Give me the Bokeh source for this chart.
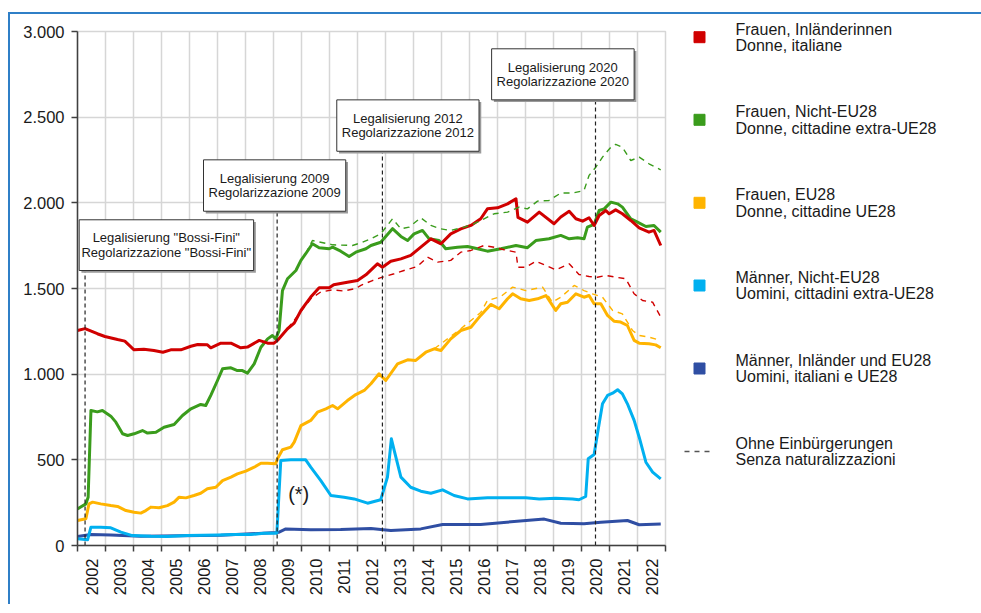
import math
from bokeh.plotting import figure
from bokeh.layouts import row
from bokeh.models import Range1d, FixedTicker
from bokeh.core.properties import value
from bokeh.embed import file_html
from bokeh.resources import INLINE

# ---------------- data ----------------
years = list(range(2002, 2023))
year_labels = [str(y) for y in years]
y_ticks = [0, 500, 1000, 1500, 2000, 2500, 3000]
y_tick_labels = ["0", "500", "1.000", "1.500", "2.000", "2.500", "3.000"]

red_t = [2002.00, 2002.27, 2002.71, 2002.98, 2003.43, 2003.69, 2004.02, 2004.37, 2004.73, 2005.05,
         2005.33, 2005.69, 2006.05, 2006.29, 2006.64, 2006.76, 2007.12, 2007.48, 2007.83, 2008.07,
         2008.49, 2008.79, 2009.02, 2009.14, 2009.50, 2009.74, 2009.98, 2010.33, 2010.63, 2010.99,
         2011.15, 2011.64, 2012.00, 2012.30, 2012.71, 2012.89, 2013.19, 2013.55, 2013.90, 2014.26,
         2014.62, 2014.98, 2015.33, 2015.69, 2016.05, 2016.40, 2016.64, 2017.00, 2017.36, 2017.66,
         2017.73, 2018.07, 2018.49, 2019.02, 2019.26, 2019.56, 2019.80, 2020.04, 2020.27, 2020.45,
         2020.63, 2020.87, 2020.99, 2021.22, 2021.46, 2021.76, 2022.06, 2022.41, 2022.59, 2022.83]
red_v = [1255, 1266, 1236, 1220, 1202, 1193, 1142, 1146, 1138, 1128,
         1142, 1142, 1163, 1173, 1171, 1154, 1181, 1181, 1154, 1158,
         1197, 1181, 1181, 1197, 1265, 1298, 1372, 1450, 1504, 1504,
         1522, 1537, 1547, 1580, 1644, 1624, 1659, 1673, 1693, 1741,
         1790, 1761, 1819, 1848, 1868, 1907, 1965, 1971, 1994, 2024,
         1915, 1887, 1946, 1878, 1917, 1951, 1907, 1893, 1913, 1868,
         1926, 1955, 1936, 1959, 1936, 1897, 1854, 1829, 1839, 1751]

red_nat_t = [2009.50, 2009.98, 2010.33, 2010.69, 2011.11, 2011.51, 2011.94, 2012.12, 2012.51, 2012.89,
             2013.31, 2013.66, 2014.14, 2014.50, 2014.86, 2015.33, 2015.69, 2016.05, 2016.52, 2016.88,
             2017.24, 2017.66, 2017.73, 2018.01, 2018.37, 2018.73, 2019.08, 2019.56, 2019.91, 2020.27,
             2020.57, 2020.87, 2021.22, 2021.58, 2021.88, 2022.18, 2022.54, 2022.83]
red_nat_v = [1265, 1365, 1440, 1480, 1492, 1485, 1500, 1518, 1545, 1566,
             1586, 1605, 1629, 1683, 1654, 1664, 1712, 1722, 1751, 1741,
             1726, 1712, 1624, 1624, 1659, 1634, 1609, 1644, 1582, 1570,
             1566, 1576, 1566, 1557, 1469, 1430, 1420, 1333]

green_t = [2002.00, 2002.30, 2002.38, 2002.48, 2002.71, 2002.89, 2003.19, 2003.37, 2003.61, 2003.79,
           2004.02, 2004.32, 2004.50, 2004.80, 2005.09, 2005.45, 2005.75, 2006.05, 2006.40, 2006.58,
           2006.76, 2007.00, 2007.18, 2007.48, 2007.71, 2007.89, 2008.07, 2008.31, 2008.55, 2008.79,
           2008.96, 2009.08, 2009.20, 2009.32, 2009.50, 2009.80, 2009.98, 2010.15, 2010.39, 2010.63,
           2010.99, 2011.11, 2011.40, 2011.70, 2011.94, 2012.30, 2012.48, 2012.83, 2013.25, 2013.55,
           2013.79, 2014.02, 2014.32, 2014.56, 2014.91, 2015.15, 2015.57, 2015.93, 2016.29, 2016.64,
           2017.12, 2017.66, 2018.07, 2018.37, 2018.84, 2019.26, 2019.56, 2019.86, 2020.09, 2020.21,
           2020.45, 2020.63, 2020.81, 2021.05, 2021.29, 2021.46, 2021.76, 2022.00, 2022.30, 2022.59,
           2022.83]
green_v = [214, 243, 282, 788, 780, 788, 755, 720, 652, 642,
           652, 671, 656, 661, 690, 706, 759, 798, 823, 817,
           876, 963, 1031, 1037, 1021, 1021, 1006, 1060, 1157, 1206,
           1226, 1206, 1255, 1488, 1557, 1605, 1664, 1703, 1761, 1738,
           1732, 1741, 1718, 1687, 1712, 1732, 1751, 1770, 1849, 1804,
           1780, 1819, 1839, 1790, 1780, 1732, 1741, 1745, 1732, 1718,
           1732, 1751, 1738, 1780, 1790, 1810, 1790, 1796, 1790, 1858,
           1874, 1955, 1965, 2004, 1994, 1975, 1907, 1887, 1862, 1868,
           1829]

green_nat_t = [2010.15, 2010.39, 2011.11, 2011.82, 2012.18, 2012.48, 2012.83, 2013.25, 2013.55, 2013.84,
               2014.26, 2014.62, 2014.98, 2015.33, 2015.81, 2016.16, 2016.52, 2016.88, 2017.36, 2017.77,
               2018.07, 2018.43, 2018.84, 2019.26, 2019.68, 2020.09, 2020.27, 2020.51, 2020.75, 2021.05,
               2021.22, 2021.46, 2021.76, 2022.06, 2022.41, 2022.83]
green_nat_v = [1703, 1780, 1755, 1751, 1770, 1790, 1819, 1907, 1848, 1858,
               1913, 1868, 1848, 1839, 1858, 1878, 1907, 1936, 1946, 1975,
               1965, 2010, 2014, 2057, 2057, 2072, 2160, 2208, 2267, 2325,
               2341, 2325, 2247, 2267, 2228, 2193]

yellow_t = [2002.00, 2002.30, 2002.41, 2002.54, 2002.83, 2003.19, 2003.43, 2003.73, 2004.02, 2004.26,
            2004.44, 2004.62, 2004.91, 2005.21, 2005.45, 2005.63, 2005.87, 2006.16, 2006.40, 2006.64,
            2006.94, 2007.18, 2007.48, 2007.71, 2008.01, 2008.31, 2008.55, 2008.79, 2009.08, 2009.14,
            2009.32, 2009.62, 2009.74, 2009.98, 2010.33, 2010.57, 2010.87, 2011.11, 2011.29, 2011.64,
            2011.94, 2012.24, 2012.48, 2012.77, 2013.01, 2013.43, 2013.79, 2014.08, 2014.44, 2014.74,
            2014.98, 2015.33, 2015.69, 2016.05, 2016.40, 2016.76, 2017.06, 2017.36, 2017.54, 2017.83,
            2018.13, 2018.43, 2018.73, 2019.08, 2019.26, 2019.50, 2019.80, 2020.09, 2020.27, 2020.45,
            2020.69, 2020.93, 2021.16, 2021.40, 2021.64, 2021.88, 2022.06, 2022.41, 2022.65, 2022.83]
yellow_v = [146, 156, 243, 253, 243, 233, 228, 204, 194, 189,
            204, 224, 220, 233, 253, 282, 278, 292, 305, 331,
            340, 379, 399, 418, 434, 457, 480, 480, 477, 506,
            559, 574, 603, 700, 730, 778, 798, 817, 798, 846,
            881, 905, 944, 1002, 963, 1060, 1084, 1080, 1128, 1148,
            1138, 1206, 1255, 1274, 1343, 1407, 1382, 1440, 1469, 1440,
            1430, 1440, 1459, 1372, 1411, 1420, 1469, 1449, 1459, 1411,
            1411, 1343, 1309, 1304, 1284, 1197, 1181, 1177, 1171, 1154]

yellow_nat_t = [2014.74, 2015.69, 2016.40, 2016.64, 2017.12, 2017.54, 2018.01, 2018.61, 2018.96, 2019.26,
                2019.74, 2020.09, 2020.39, 2020.75, 2021.11, 2021.46, 2021.82, 2022.06, 2022.41, 2022.83]
yellow_nat_v = [1148, 1265, 1360, 1430, 1453, 1508, 1488, 1508, 1420, 1449,
                1518, 1488, 1469, 1449, 1372, 1352, 1255, 1226, 1216, 1197]

lblue_t = [2002.00, 2002.36, 2002.48, 2002.83, 2003.19, 2003.55, 2003.96, 2004.62, 2005.21, 2005.93,
           2007.00, 2007.59, 2008.19, 2008.66, 2009.12, 2009.26, 2009.62, 2010.15, 2010.33, 2010.69,
           2011.05, 2011.52, 2011.88, 2012.36, 2012.83, 2013.07, 2013.21, 2013.31, 2013.55, 2013.90,
           2014.26, 2014.62, 2015.04, 2015.45, 2015.93, 2016.64, 2017.36, 2018.01, 2018.49, 2019.08,
           2019.68, 2019.91, 2020.15, 2020.24, 2020.45, 2020.63, 2020.75, 2020.93, 2021.11, 2021.29,
           2021.46, 2021.64, 2021.88, 2022.06, 2022.30, 2022.54, 2022.83]
lblue_v = [39, 33, 107, 107, 103, 78, 58, 54, 53, 58,
           62, 64, 64, 72, 72, 496, 500, 500, 457, 379,
           292, 282, 272, 247, 267, 399, 623, 555, 399, 340,
           317, 305, 325, 292, 272, 278, 278, 278, 272, 276,
           272, 267, 286, 506, 531, 710, 827, 876, 889, 909,
           885, 827, 730, 632, 486, 428, 389]

dblue_t = [2002.00, 2002.48, 2003.19, 2004.26, 2005.69, 2007.12, 2008.19, 2009.08, 2009.20, 2009.44,
           2010.33, 2011.40, 2012.48, 2013.19, 2014.26, 2015.04, 2016.40, 2017.33, 2018.67, 2019.26,
           2020.09, 2020.69, 2021.64, 2022.06, 2022.83]
dblue_v = [53, 64, 62, 54, 57, 60, 68, 76, 78, 97,
           92, 93, 99, 88, 97, 123, 123, 136, 154, 130,
           127, 136, 146, 121, 125]

# legalisation events
event_t = [2002.27, 2009.13, 2012.89, 2020.50]
event_de = ['Legalisierung "Bossi-Fini"', "Legalisierung 2009", "Legalisierung 2012", "Legalisierung 2020"]
event_it = ['Regolarizzazione "Bossi-Fini"', "Regolarizzazione 2009", "Regolarizzazione 2012",
            "Regolarizzazione 2020"]

legend_de = ["Frauen, Inländerinnen", "Frauen, Nicht-EU28", "Frauen, EU28",
             "Männer, Nicht-EU28", "Männer, Inländer und EU28", "Ohne Einbürgerungen"]
legend_it = ["Donne, italiane", "Donne, cittadine extra-UE28", "Donne, cittadine UE28",
             "Uomini, cittadini extra-UE28", "Uomini, italiani e UE28", "Senza naturalizzazioni"]

# ---------------- styles ----------------
RED, GREEN, YELLOW, LBLUE, DBLUE = "#d00000", "#3a9c1c", "#ffb400", "#00b0f0", "#2f4ea3"
FONT = "Liberation Sans"
TXT = "#1a1a1a"

# annotation box placement (data space of the main chart)
box_left = [2002.06, 2006.50, 2011.26, 2016.79]
box_right = [2008.29, 2011.58, 2016.34, 2021.88]
box_top = [1901, 2251, 2601, 2899]
box_bottom = [1605, 1951, 2301, 2601]
box_tx = [2005.17, 2009.04, 2013.80, 2019.33]

p = figure(width=658, height=590, x_range=Range1d(2002, 2023), y_range=Range1d(0, 3000),
           output_backend="svg", toolbar_location=None,
           min_border_left=67, min_border_right=3, min_border_top=17, min_border_bottom=59)
p.background_fill_color = "white"
p.border_fill_color = "white"
p.outline_line_color = "#d6d6d6"
p.outline_line_width = 1.5

# grid
p.xgrid.ticker = FixedTicker(ticks=list(range(2003, 2024)))
p.ygrid.ticker = FixedTicker(ticks=y_ticks)
p.grid.grid_line_color = "#d6d6d6"
p.grid.grid_line_width = 1.5

# x axis
p.xaxis.ticker = FixedTicker(ticks=[y + 0.5 for y in years], minor_ticks=list(range(2002, 2024)))
p.xaxis.major_label_overrides = {y + 0.5: lab for y, lab in zip(years, year_labels)}
p.xaxis.major_label_orientation = math.pi / 2
p.xaxis.major_tick_out = 0
p.xaxis.major_tick_in = 0
p.xaxis.minor_tick_out = 6
p.xaxis.minor_tick_in = 0
p.xaxis.minor_tick_line_color = "#404040"
p.xaxis.major_label_standoff = 7

# y axis
p.yaxis.ticker = FixedTicker(ticks=y_ticks)
p.yaxis.major_label_overrides = {t: lab for t, lab in zip(y_ticks, y_tick_labels)}
p.yaxis.major_tick_out = 6
p.yaxis.major_tick_in = 0
p.yaxis.minor_tick_out = 0
p.yaxis.minor_tick_in = 0
p.yaxis.major_label_standoff = 7

for ax in (p.xaxis[0], p.yaxis[0]):
    ax.axis_line_color = "#404040"
    ax.axis_line_width = 1.5
    ax.major_tick_line_color = "#404040"
    ax.major_tick_line_width = 1.5
    ax.minor_tick_line_width = 1.5
    ax.major_label_text_font = FONT
    ax.major_label_text_font_size = "16.5px"
    ax.major_label_text_color = TXT

# solid series
p.line(dblue_t, dblue_v, color=DBLUE, line_width=3, line_join="round")
p.line(lblue_t, lblue_v, color=LBLUE, line_width=3, line_join="round")
p.line(yellow_t, yellow_v, color=YELLOW, line_width=3, line_join="round")
p.line(green_t, green_v, color=GREEN, line_width=3, line_join="round")
p.line(red_t, red_v, color=RED, line_width=3, line_join="round")
# without naturalisations (dashed)
p.line(yellow_nat_t, yellow_nat_v, color=YELLOW, line_width=1.4, line_dash="6 5")
p.line(green_nat_t, green_nat_v, color=GREEN, line_width=1.4, line_dash="6 5")
p.line(red_nat_t, red_nat_v, color=RED, line_width=1.4, line_dash="6 5")

# event lines and boxes
p.segment(x0=event_t, x1=event_t, y0=[0] * 4, y1=box_bottom, color="#222222",
          line_width=1.2, line_dash="4 3")
dx, dy = 0.08, 13
p.quad(left=[l + dx for l in box_left], right=[r + dx for r in box_right],
       top=[t - dy for t in box_top], bottom=[b - dy for b in box_bottom],
       fill_color="#9a9a9a", line_color=None)
p.quad(left=box_left, right=box_right, top=box_top, bottom=box_bottom,
       fill_color="white", line_color="#333333", line_width=1)
mid = [(t + b) / 2 for t, b in zip(box_top, box_bottom)]
p.text(x=box_tx, y=[m + 42 for m in mid], text=event_de, text_font=value(FONT),
       text_font_size="13px", text_align="center", text_baseline="middle", text_color=TXT)
p.text(x=box_tx, y=[m - 40 for m in mid], text=event_it, text_font=value(FONT),
       text_font_size="13px", text_align="center", text_baseline="middle", text_color=TXT)
p.text(x=[2009.90], y=[298], text=["(*)"], text_font=value(FONT), text_font_size="20px",
       text_align="center", text_baseline="middle", text_color=TXT)

# ---------------- legend panel ----------------
q = figure(width=313, height=590, x_range=Range1d(0, 313), y_range=Range1d(590, 0),
           output_backend="svg", toolbar_location=None, min_border=0,
           x_axis_type=None, y_axis_type=None)
q.title.visible = False
q.grid.visible = False
q.outline_line_color = None
q.background_fill_color = "white"
q.border_fill_color = "white"
try:
    q.frame_align = False
    p.frame_align = False
except Exception:
    pass

leg_y = [22.7, 105.3, 188.3, 271, 354, 437]
q.scatter(x=[31] * 5, y=leg_y[:5], marker="square", size=11,
          color=[RED, GREEN, YELLOW, LBLUE, DBLUE])
q.line([16, 46], [leg_y[5], leg_y[5]], color="#555555", line_width=1.3, line_dash="5 5")
q.text(x=[67] * 6, y=[v - 8.2 for v in leg_y], text=legend_de, text_font=value(FONT),
       text_font_size="16px", text_baseline="middle", text_color=TXT)
q.text(x=[67] * 6, y=[v + 8.2 for v in leg_y], text=legend_it, text_font=value(FONT),
       text_font_size="16px", text_baseline="middle", text_color=TXT)

layout = row(p, q, styles={"border-left": "2px solid #2f7fc7",
                           "border-top": "2px solid #2f7fc7",
                           "border-right": "none",
                           "margin-top": "12px",
                           "margin-left": "8px"})

open("out.html", "w").write(file_html(layout, INLINE))
